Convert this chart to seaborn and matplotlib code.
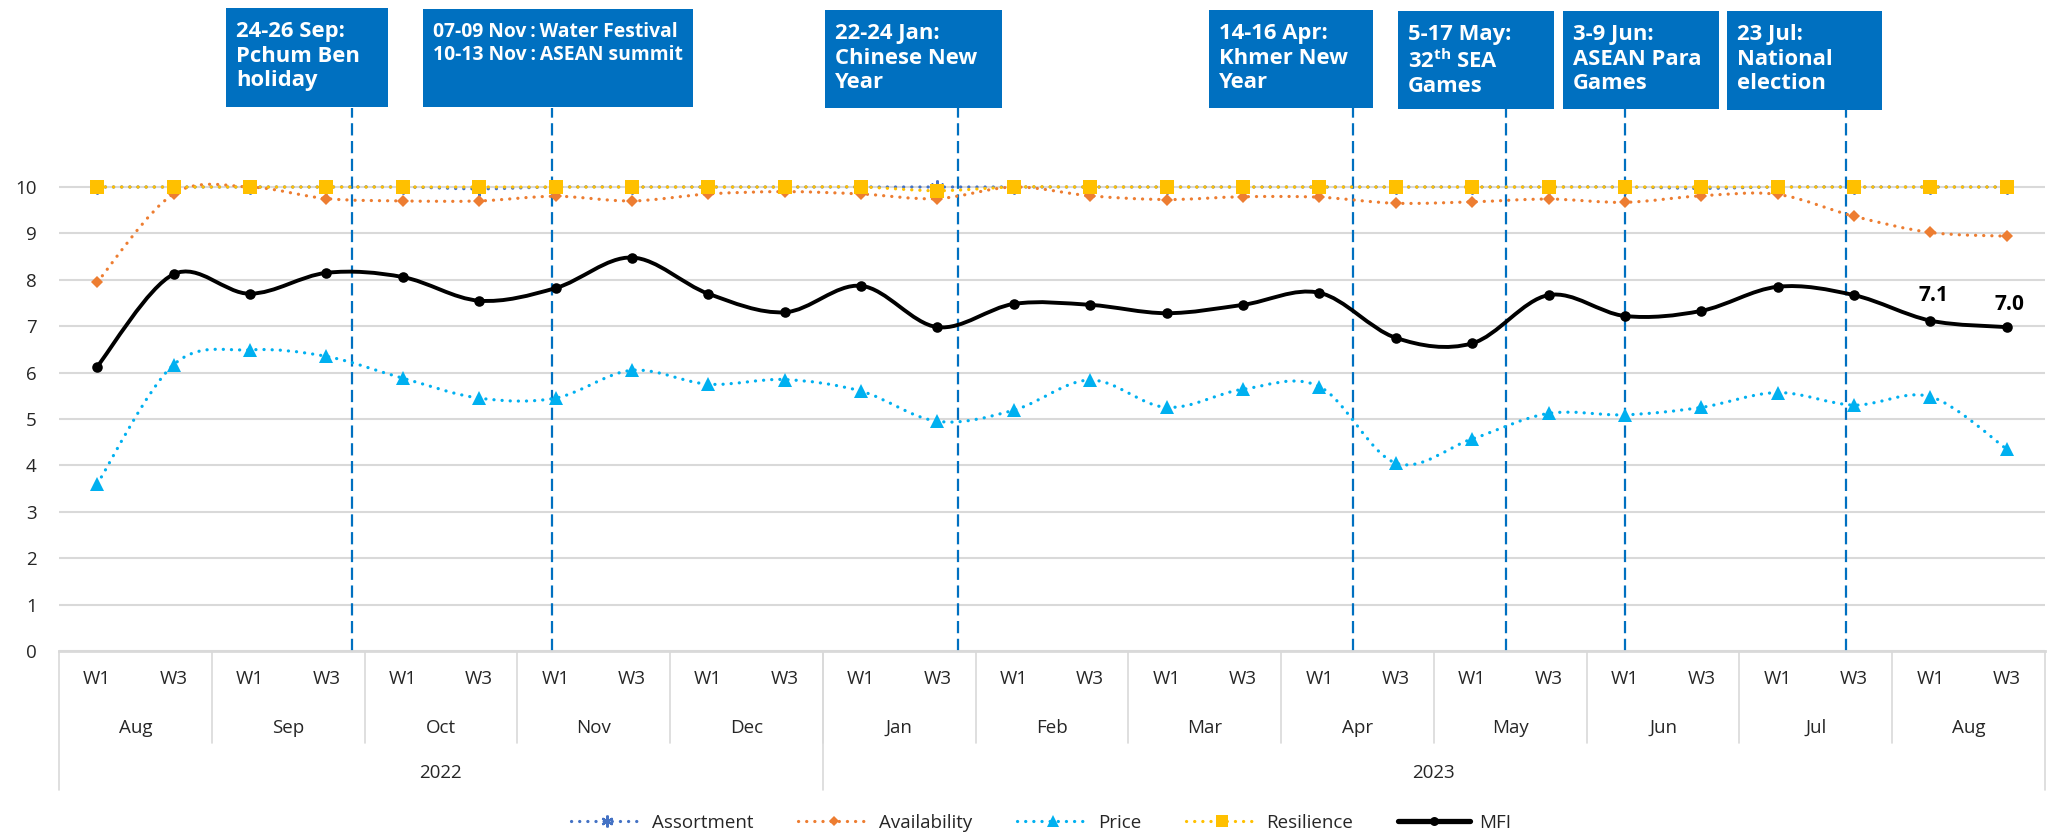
import numpy as np
import pandas as pd
import seaborn as sns
from matplotlib import pyplot as plt
from matplotlib.lines import Line2D
from matplotlib.path import Path
from matplotlib.patches import PathPatch, Rectangle
import matplotlib.transforms as mtransforms

# ---- data ----
weeks = ["W1", "W3"] * 13
months = ["Aug", "Sep", "Oct", "Nov", "Dec", "Jan", "Feb", "Mar", "Apr", "May", "Jun", "Jul", "Aug"]
years = ["2022", "2023"]
months_per_year = [5, 8]

assortment = [10.0, 10.0, 10.0, 10.0, 10.0, 9.96, 10.0, 10.0, 10.0, 10.0, 10.0, 10.0, 10.0,
              10.0, 10.0, 10.0, 10.0, 10.0, 10.0, 10.0, 10.0, 9.97, 10.0, 10.0, 10.0, 10.0]
availability = [7.95, 9.85, 10.0, 9.75, 9.7, 9.7, 9.8, 9.7, 9.85, 9.9, 9.85, 9.75, 10.0,
                9.81, 9.73, 9.79, 9.78, 9.65, 9.68, 9.74, 9.67, 9.81, 9.84, 9.37, 9.02, 8.94]
price = [3.6, 6.17, 6.49, 6.35, 5.88, 5.45, 5.45, 6.05, 5.75, 5.85, 5.6, 4.95, 5.19,
         5.84, 5.25, 5.64, 5.7, 4.05, 4.57, 5.12, 5.09, 5.25, 5.57, 5.3, 5.48, 4.35]
resilience = [10.0, 10.0, 10.0, 10.0, 10.0, 10.0, 10.0, 10.0, 10.0, 10.0, 10.0, 9.92, 10.0,
              10.0, 10.0, 10.0, 10.0, 10.0, 10.0, 10.0, 10.0, 10.0, 10.0, 10.0, 10.0, 10.0]
mfi = [6.13, 8.12, 7.7, 8.15, 8.06, 7.55, 7.82, 8.48, 7.7, 7.3, 7.87, 6.98, 7.48,
       7.46, 7.28, 7.46, 7.72, 6.75, 6.63, 7.67, 7.22, 7.33, 7.85, 7.67, 7.12, 6.98]

# events: (position on the week axis, label)
event_pos = [3.33, 5.95, 11.27, 16.44, 18.45, 20.0, 22.89]
event_text = [
    "24-26 Sep:\nPchum Ben\nholiday",
    "07-09 Nov\u2009:\u2009Water Festival\n10-13 Nov\u2009:\u2009ASEAN summit",
    "22-24 Jan:\nChinese New\nYear",
    "14-16 Apr:\nKhmer New\nYear",
    "5-17 May:\n32$^{\\mathregular{th}}$ SEA\nGames",
    "3-9 Jun:\nASEAN Para\nGames",
    "23 Jul:\nNational\nelection",
]
event_fs = [15.8, 13.9, 15.8, 15.8, 15.8, 15.8, 15.8]
# text box extents in pixels (left, right, top, bottom)
event_box = [(226, 388, 8, 107), (423, 693, 9, 107), (825, 1002, 10, 108),
             (1209, 1373, 10, 108), (1398, 1554, 11, 109), (1563, 1719, 11, 109),
             (1727, 1882, 11, 110)]

series = {
    "Assortment": assortment,
    "Availability": availability,
    "Price": price,
    "Resilience": resilience,
    "MFI": mfi,
}
DOT = (0, (0.05, 2.5))
styles = {
    "Assortment": dict(color="#4472C4", marker=(6, 2, 0), ms=10, lw=2.3, ls=DOT),
    "Availability": dict(color="#ED7D31", marker="D", ms=6.3, lw=2.3, ls=DOT),
    "Price": dict(color="#00B0F0", marker="^", ms=9.5, lw=2.3, ls=DOT),
    "Resilience": dict(color="#FFC000", marker="s", ms=9.5, lw=2.3, ls=DOT),
    "MFI": dict(color="#000000", marker="o", ms=7.6, lw=2.8, ls="-"),
}

df = pd.DataFrame(
    [(i, name, v) for name, vals in series.items() for i, v in enumerate(vals)],
    columns=["pos", "series", "value"],
)


def smooth_path(xs, ys):
    # excel-style smoothed line: cubic bezier with catmull-rom tangents
    pts = np.column_stack([xs, ys]).astype(float)
    n = len(pts)
    verts = [pts[0]]
    codes = [Path.MOVETO]
    for i in range(n - 1):
        p0 = pts[i - 1] if i > 0 else pts[i]
        p1 = pts[i]
        p2 = pts[i + 1]
        p3 = pts[i + 2] if i + 2 < n else pts[i + 1]
        verts += [p1 + (p2 - p0) / 6.0, p2 - (p3 - p1) / 6.0, p2]
        codes += [Path.CURVE4] * 3
    return Path(verts, codes)


sns.set_theme(style="white")
plt.rcParams["font.family"] = ["Open Sans", "DejaVu Sans"]
plt.rcParams["mathtext.fontset"] = "custom"
plt.rcParams["mathtext.rm"] = "Open Sans"

W, H = 2053, 836
fig = plt.figure(figsize=(W / 100, H / 100), dpi=100)
ax = fig.add_axes([59 / W, 1 - 651 / H, (2045 - 59) / W, (651 - 108) / H])

ytop = (651 - 108) / 46.4
ax.set_xlim(-0.5, 25.5)
ax.set_ylim(0, ytop)

for name in series:
    st = styles[name]
    sub = df[df["series"] == name]
    patch = PathPatch(smooth_path(sub["pos"], sub["value"]), facecolor="none",
                      edgecolor=st["color"], lw=st["lw"], linestyle=st["ls"],
                      capstyle="round", joinstyle="round", zorder=3)
    ax.add_patch(patch)
    filled = name != "Assortment"
    sns.lineplot(data=sub, x="pos", y="value", ax=ax, linestyle="none",
                 marker=st["marker"], markersize=st["ms"], color=st["color"],
                 markeredgecolor=st["color"], markeredgewidth=0 if filled else 1.6,
                 zorder=4, legend=False)

# data labels for the last two MFI points
for i, off in [(24, 18), (25, 16)]:
    ax.annotate(f"{mfi[i]:.1f}", (i, mfi[i]), xytext=(2, off), textcoords="offset points",
                ha="center", va="center", fontsize=15, fontweight="bold", color="black")

# event lines
for x in event_pos:
    ax.plot([x, x], [0, ytop], color="#0070C0", lw=1.6, ls=(0, (5.5, 2.5)), zorder=2)

# axis styling
ax.set_yticks(range(0, 11))
ax.set_yticklabels([str(v) for v in range(0, 11)])
ax.yaxis.grid(True, color="#D9D9D9", lw=1.5)
ax.set_axisbelow(True)
ax.set_xticks(range(len(weeks)))
ax.set_xticklabels(weeks)
ax.tick_params(axis="x", length=0, pad=14, labelsize=13.5, labelcolor="#262626")
ax.tick_params(axis="y", length=0, pad=16, labelsize=13.5, labelcolor="#262626")
ax.set_xlabel("")
ax.set_ylabel("")
for s in ["top", "right", "left"]:
    ax.spines[s].set_visible(False)
ax.spines["bottom"].set_color("#D9D9D9")
ax.spines["bottom"].set_linewidth(2)

# category table below the axis
trans = mtransforms.blended_transform_factory(ax.transData, ax.transAxes)
sep_col = "#D9D9D9"
month_y = -(728 - 651) / 543
year_y = -(773 - 651) / 543
month_bot = -(743 - 651) / 543
year_bot = -(790 - 651) / 543
for k, m in enumerate(months):
    ax.text(2 * k + 0.5, month_y, m, transform=trans, ha="center", va="center",
            fontsize=13.5, color="#262626")
    if k > 0:
        ax.plot([2 * k - 0.5] * 2, [0, month_bot], transform=trans, color=sep_col,
                lw=1.2, clip_on=False)
start = 0
for yr, cnt in zip(years, months_per_year):
    end = start + 2 * cnt
    ax.text((start + end - 1) / 2, year_y, yr, transform=trans, ha="center", va="center",
            fontsize=13.5, color="#262626")
    ax.plot([start - 0.5] * 2, [0, year_bot], transform=trans, color=sep_col,
            lw=1.2, clip_on=False)
    start = end
ax.plot([start - 0.5] * 2, [0, year_bot], transform=trans, color=sep_col,
        lw=1.2, clip_on=False)

# event text boxes
for (l, r, t, b), txt, fs in zip(event_box, event_text, event_fs):
    fig.add_artist(Rectangle((l / W, 1 - b / H), (r - l) / W, (b - t) / H,
                             transform=fig.transFigure, facecolor="#0070C0",
                             edgecolor="none", zorder=5))
    fig.text((l + 10) / W, 1 - (t + 13) / H, txt, ha="left", va="top", color="white",
             fontsize=fs, fontweight="bold", linespacing=1.22, zorder=6)

# legend
handles = []
for name in series:
    st = styles[name]
    filled = name != "Assortment"
    handles.append(Line2D([], [], color=st["color"], lw=st["lw"] + (1.0 if name == "MFI" else 0),
                          ls=st["ls"], marker=st["marker"], markersize=st["ms"] * 0.85,
                          markeredgewidth=0 if filled else 1.6, dash_capstyle="round"))
fig.legend(handles, list(series.keys()), loc="center", bbox_to_anchor=(1041 / W, 1 - 823 / H),
           ncol=5, frameon=False, fontsize=13.5, handlelength=3.8, handletextpad=0.5,
           columnspacing=2.4, labelcolor="#262626")

fig.savefig("out.png", dpi=100)
